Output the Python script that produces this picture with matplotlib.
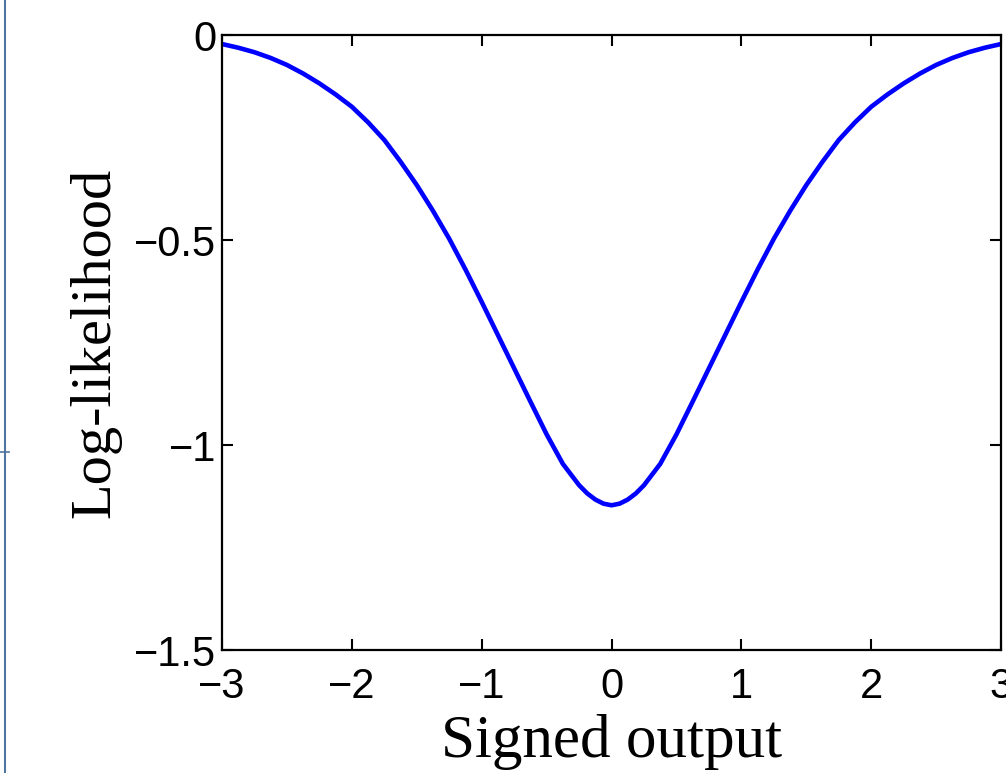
import numpy as np
import matplotlib
matplotlib.use("Agg")
import matplotlib.pyplot as plt
from matplotlib.lines import Line2D

# signed output vs. log-likelihood
signed_output = [-3.0, -2.875, -2.75, -2.625, -2.5, -2.375, -2.25, -2.125,
                 -2.0, -1.875, -1.75, -1.625, -1.5, -1.375, -1.25, -1.125,
                 -1.0, -0.875, -0.75, -0.625, -0.5, -0.375, -0.25, -0.1875,
                 -0.125, -0.0625, 0.0, 0.0625, 0.125, 0.1875, 0.25, 0.375,
                 0.5, 0.625, 0.75, 0.875, 1.0, 1.125, 1.25, 1.375,
                 1.5, 1.625, 1.75, 1.875, 2.0, 2.125, 2.25, 2.375,
                 2.5, 2.625, 2.75, 2.875, 3.0]
log_likelihood = [-0.022, -0.031, -0.042, -0.056, -0.073, -0.094, -0.118, -0.145,
                  -0.175, -0.213, -0.256, -0.309, -0.366, -0.429, -0.497, -0.572,
                  -0.651, -0.732, -0.813, -0.894, -0.974, -1.046, -1.098, -1.118,
                  -1.133, -1.143, -1.147, -1.143, -1.133, -1.118, -1.098, -1.046,
                  -0.974, -0.894, -0.813, -0.732, -0.651, -0.572, -0.497, -0.429,
                  -0.366, -0.309, -0.256, -0.213, -0.175, -0.145, -0.118, -0.094,
                  -0.073, -0.056, -0.042, -0.031, -0.022]

xticks = [-3, -2, -1, 0, 1, 2, 3]
yticks = [-1.5, -1, -0.5, 0]
ytick_labels = ["\u22121.5", "\u22121", "\u22120.5", "0"]
xtick_labels = [str(t).replace("-", "\u2212") for t in xticks]

fig = plt.figure(figsize=(10.06, 7.73), dpi=100)
ax = fig.add_axes([0.2207, 0.1591, 0.7744, 0.7956])

ax.plot(signed_output, log_likelihood, color=(0, 0, 1), linewidth=3.3,
        solid_joinstyle="round")

ax.set_xlim(-3, 3)
ax.set_ylim(-1.5, 0)
ax.set_xticks(xticks)
ax.set_xticklabels(xtick_labels)
ax.set_yticks(yticks)
ax.set_yticklabels(ytick_labels)

for lbl in ax.get_xticklabels() + ax.get_yticklabels():
    lbl.set_family("Liberation Sans")
    lbl.set_fontsize(30)

ax.tick_params(direction="in", length=8, width=1.5, top=True, right=True,
               colors="black")
ax.tick_params(axis="y", pad=4)
ax.tick_params(axis="x", pad=12)
for s in ax.spines.values():
    s.set_linewidth(1.6)

ax.set_xlabel("Signed output", family="Liberation Serif", fontsize=44, labelpad=5)
ax.set_ylabel("Log-likelihood", family="Liberation Serif", fontsize=42, labelpad=9)

# page margin line on the left
fig.add_artist(Line2D([0.005, 0.005], [0, 1], transform=fig.transFigure,
                      color="#4f75a0", linewidth=1.5))
fig.add_artist(Line2D([0.0, 0.009], [0.415, 0.415], transform=fig.transFigure,
                      color="#4f75a0", linewidth=1.2))

fig.savefig("out.png", dpi=100)
